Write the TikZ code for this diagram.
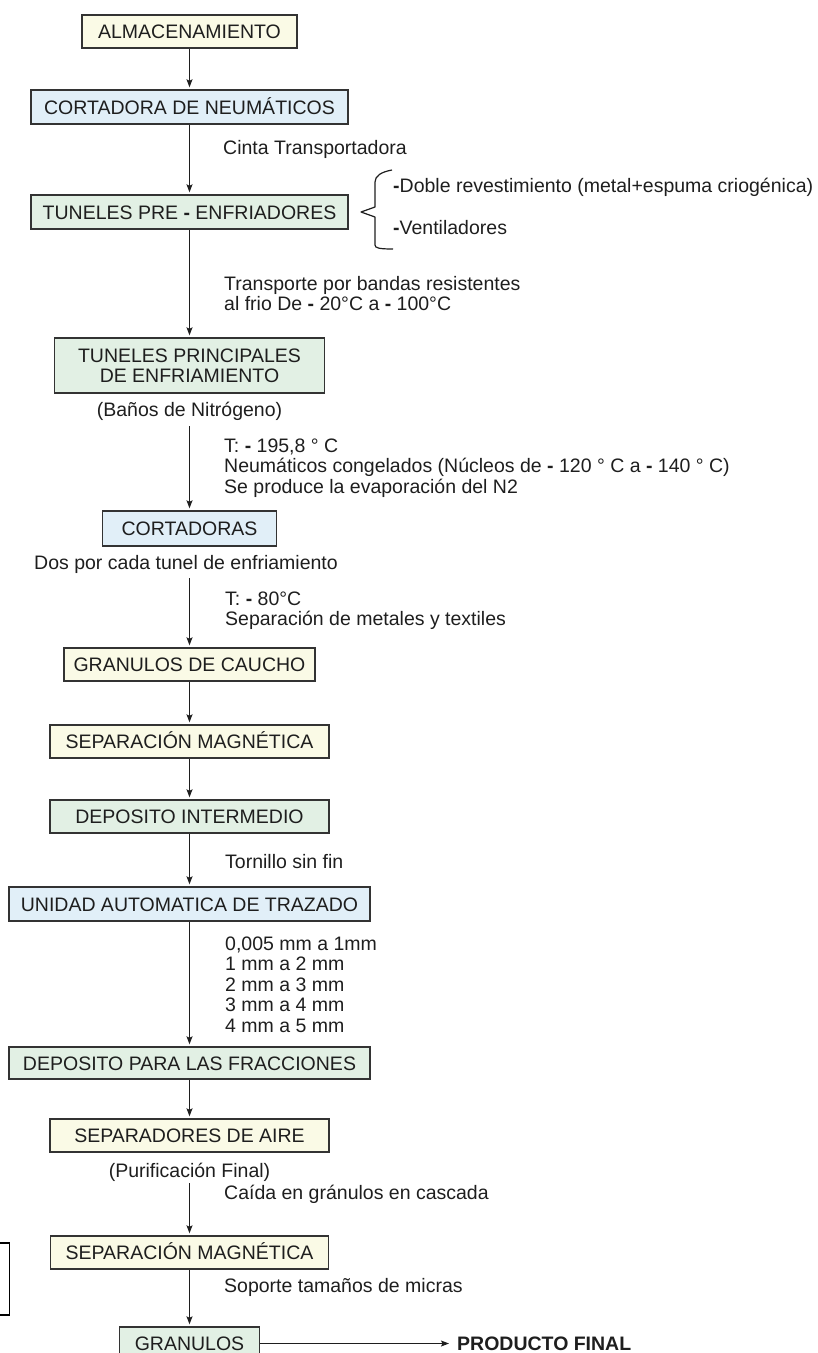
\documentclass[tikz,border=0pt]{standalone}
\usepackage{fontspec}
\setmainfont{Liberation Sans}
\usetikzlibrary{arrows.meta}
\definecolor{boxy}{HTML}{FAFAE6}
\definecolor{boxb}{HTML}{E1EFF8}
\definecolor{boxg}{HTML}{E2F0E4}
\definecolor{edgecol}{HTML}{333333}
\definecolor{ink}{HTML}{1E1E1E}
\newcommand{\bdash}{\textbf{-}}
\begin{document}
\begin{tikzpicture}[x=1pt,y=-1pt,
  every node/.style={font=\fontsize{19.5pt}{20.5pt}\selectfont, text=ink},
  box/.style={draw=edgecol, line width=1.4pt, inner sep=0pt, minimum height=33pt,
              text height=14pt, text depth=0pt, anchor=center},
  ybox/.style={box, fill=boxy},
  bbox/.style={box, fill=boxb},
  gbox/.style={box, fill=boxg},
  gboxtwo/.style={draw=edgecol, line width=1.4pt, inner sep=0pt, fill=boxg,
              align=center, font=\fontsize{19.5pt}{20pt}\selectfont, anchor=center},
  note/.style={anchor=base west, inner sep=0pt},
  lab/.style={anchor=base, inner sep=0pt, text depth=5pt},
  arr/.style={draw=ink, line width=1.1pt, -{Stealth[length=8pt,width=6pt,inset=1.5pt]}, shorten >=2pt},
]
\useasboundingbox (0,0) rectangle (818,1353);

% boxes
\node[ybox, minimum width=215pt] (alm) at (189.5,31.5) {ALMACENAMIENTO};
\node[bbox, minimum width=317pt, minimum height=34pt] (cneu) at (189.5,107) {CORTADORA DE NEUMÁTICOS};
\node[gbox, minimum width=317pt, minimum height=34pt] (tpre) at (189.5,212) {TUNELES PRE \bdash{} ENFRIADORES};
\node[gboxtwo, minimum width=270pt, minimum height=55pt] (tpri) at (189.5,365.5) {TUNELES PRINCIPALES\\DE ENFRIAMIENTO};
\node[bbox, minimum width=174pt, minimum height=35pt] (cort) at (189.5,528.5) {CORTADORAS};
\node[ybox, minimum width=251pt] (gcau) at (189.5,664.5) {GRANULOS DE CAUCHO};
\node[ybox, minimum width=279pt] (sepa) at (189.5,741.5) {SEPARACIÓN MAGNÉTICA};
\node[gbox, minimum width=279pt] (dint) at (189.5,816.5) {DEPOSITO INTERMEDIO};
\node[bbox, minimum width=361pt, minimum height=34pt] (unid) at (189.5,904) {UNIDAD AUTOMATICA DE TRAZADO};
\node[gbox, minimum width=361pt, minimum height=32pt] (dfra) at (189.5,1063) {DEPOSITO PARA LAS FRACCIONES};
\node[ybox, minimum width=279pt] (saire) at (189.5,1135.5) {SEPARADORES DE AIRE};
\node[ybox, minimum width=278pt] (sepb) at (189.5,1252.5) {SEPARACIÓN MAGNÉTICA};
\node[gbox, minimum width=140pt] (gran) at (189.5,1343.5) {GRANULOS};
\node[anchor=west, inner sep=0pt, text height=14pt, text depth=0pt,
      font=\fontsize{19.5pt}{20.5pt}\selectfont\bfseries] (prod) at (457,1343.5) {PRODUCTO FINAL};

% labels under boxes
\node[lab] (banos) at (189.5,416) {(Baños de Nitrógeno)};
\node[lab] (dos) at (186,569) {Dos por cada tunel de enfriamiento};
\node[lab] (purif) at (189.5,1177) {(Purificación Final)};

% side notes
\node[note] (cinta) at (223,154) {Cinta Transportadora};
\node[note] (doble) at (393,192) {\bdash Doble revestimiento (metal+espuma criogénica)};
\node[note] (vent) at (393,234) {\bdash Ventiladores};
\node[note] (transp) at (224,290) {\begin{tabular}[t]{@{}l@{}}Transporte por bandas resistentes\\al frio De \bdash{} 20°C a \bdash{} 100°C\end{tabular}};
\node[note] (temp) at (224,452) {\begin{tabular}[t]{@{}l@{}}T: \bdash{} 195,8 ° C\\Neumáticos congelados (Núcleos de \bdash{} 120 ° C a \bdash{} 140 ° C)\\Se produce la evaporación del N2\end{tabular}};
\node[note] (tochenta) at (225,605) {\begin{tabular}[t]{@{}l@{}}T: \bdash{} 80°C\\Separación de metales y textiles\end{tabular}};
\node[note] (torn) at (225,868) {Tornillo sin fin};
\node[note] (mm) at (225,950) {\begin{tabular}[t]{@{}l@{}}0,005 mm a 1mm\\1 mm a 2 mm\\2 mm a 3 mm\\3 mm a 4 mm\\4 mm a 5 mm\end{tabular}};
\node[note] (caida) at (224,1199) {Caída en gránulos en cascada};
\node[note] (soporte) at (224,1292) {Soporte tamaños de micras};

% brace
\draw[ink, line width=1.2pt, line join=round]
  (392,170) .. controls (381,172) and (375,176) .. (375,182)
  -- (375,207) -- (361,212) -- (375,217) -- (375,245)
  .. controls (375,248) and (379,249) .. (393,249);

% partial frame at left edge
\draw[black, line width=1.4pt] (0,1243) -- (9.5,1243) -- (9.5,1315) -- (0,1315);

% connectors
\draw[arr] (alm) -- (cneu);
\draw[arr] (cneu) -- (tpre);
\draw[arr] (tpre) -- (tpri);
\draw[arr, shorten <=5pt] (banos) -- (cort);
\draw[arr, shorten <=4pt] (dos.south -| gcau.north) -- (gcau.north);
\draw[arr] (gcau) -- (sepa);
\draw[arr] (sepa) -- (dint);
\draw[arr] (dint) -- (unid);
\draw[arr] (unid) -- (dfra);
\draw[arr] (dfra) -- (saire);
\draw[arr, shorten <=1pt] (purif) -- (sepb);
\draw[arr] (sepb) -- (gran);
\draw[arr, shorten >=8pt] (gran) -- (prod);
\end{tikzpicture}
\end{document}
